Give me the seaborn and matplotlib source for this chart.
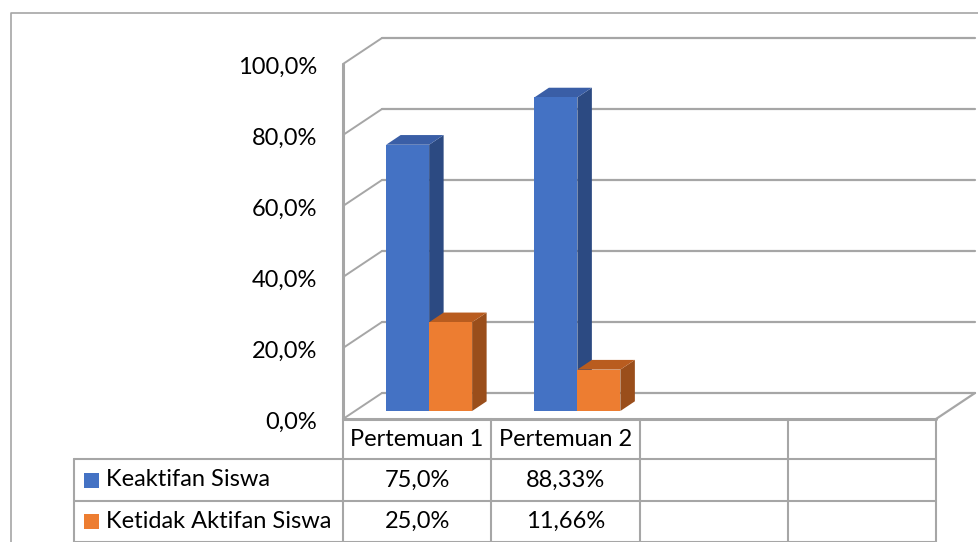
# 3D-style clustered column chart with a data table underneath

import pandas as pd
import numpy as np
import matplotlib.pyplot as plt
import seaborn as sns
from matplotlib.patches import Polygon, Rectangle
from matplotlib.lines import Line2D

sns.set_style("white")
plt.rcParams['font.family'] = ['Lato', 'DejaVu Sans']

categories = ["Pertemuan 1", "Pertemuan 2"]
series = ["Keaktifan Siswa", "Ketidak Aktifan Siswa"]
keaktifan = [75.0, 88.33]
ketidak_aktifan = [25.0, 11.66]
y_ticks = [0, 20, 40, 60, 80, 100]
n_slots = 4  # the table has two empty category columns

front_colors = ["#4472C4", "#ED7D31"]
top_colors = ["#3a5ea6", "#b95c1f"]
side_colors = ["#2c4a82", "#9a4e1b"]
grid_color = "#a6a6a6"
FS = 17

df = pd.DataFrame({
    "Pertemuan": categories * 2,
    "Seri": [series[0]] * len(categories) + [series[1]] * len(categories),
    "Nilai": keaktifan + ketidak_aktifan,
})

W, H = 979, 542
fig = plt.figure(figsize=(W / 100, H / 100), dpi=100)
# the axes is the plane of the bar fronts inside the 3D box
ax = fig.add_axes([355 / W, 1 - 411 / H, 593 / W, 355 / H])
sns.barplot(data=df, x="Pertemuan", y="Nilai", hue="Seri", order=categories,
            hue_order=series, palette=front_colors, saturation=1, width=0.58,
            gap=0, errorbar=None, legend=False, ax=ax)
ax.set_xlim(-0.5, n_slots - 0.5)
ax.set_ylim(0, 100)
ax.axis('off')

inv = ax.transData.inverted()


def plane(x, y, dx, dy):
    # data point moved by (dx, dy) screen pixels, returned in data coords
    p = ax.transData.transform((x, y))
    return inv.transform(p + np.array([dx, dy]))


FRONT = (-12, -8)
BACK = (27, 18)
DEPTH = (14.5, 9.7)
x_lo, x_hi = -0.5, n_slots - 0.5

# back wall gridlines and side wall diagonals
for v in y_ticks:
    a, b = plane(x_lo, v, *BACK), plane(x_hi, v, *BACK)
    ax.plot([a[0], b[0]], [a[1], b[1]], color=grid_color, lw=1.6,
            clip_on=False, zorder=1)
    f = plane(x_lo, v, *FRONT)
    ax.plot([f[0], a[0]], [f[1], a[1]], color=grid_color, lw=1.4,
            clip_on=False, zorder=1)

# front vertical axis, floor front edge and right floor edge
p0, p1 = plane(x_lo, 0, *FRONT), plane(x_lo, 100, *FRONT)
ax.plot([p0[0], p1[0]], [p0[1], p1[1]], color=grid_color, lw=2.2,
        clip_on=False, zorder=1)
q0, q1 = plane(x_hi, 0, *FRONT), plane(x_hi, 0, *BACK)
ax.plot([p0[0], q0[0]], [p0[1], q0[1]], color=grid_color, lw=2.2,
        clip_on=False, zorder=6)
ax.plot([q0[0], q1[0]], [q0[1], q1[1]], color=grid_color, lw=1.6,
        clip_on=False, zorder=1)

# extrude the seaborn bars into boxes
all_bars = []
for s, cont in enumerate(ax.containers):
    for bar in cont:
        all_bars.append((bar.get_x(), s, bar))
all_bars.sort(key=lambda t: t[0])
for rank, (_, s, bar) in enumerate(all_bars):
    x0, w, h = bar.get_x(), bar.get_width(), bar.get_height()
    z = 3 + rank * 0.1
    side = [plane(x0 + w, 0, 0, 0), plane(x0 + w, h, 0, 0),
            plane(x0 + w, h, *DEPTH), plane(x0 + w, 0, *DEPTH)]
    top = [plane(x0, h, 0, 0), plane(x0 + w, h, 0, 0),
           plane(x0 + w, h, *DEPTH), plane(x0, h, *DEPTH)]
    ax.add_patch(Polygon(side, closed=True, facecolor=side_colors[s],
                         edgecolor='none', clip_on=False, zorder=z - 0.05))
    ax.add_patch(Polygon(top, closed=True, facecolor=top_colors[s],
                         edgecolor='none', clip_on=False, zorder=z - 0.05))
    bar.set_linewidth(0)
    bar.set_zorder(z)
    bar.set_clip_on(False)

# y tick labels on the front axis
for v in y_ticks:
    x, y = plane(x_lo, v, FRONT[0] - 26, FRONT[1] - 3)
    ax.text(x, y, f"{v:.1f}".replace('.', ',') + '%', ha='right',
            va='center', fontsize=FS, color='black')


# data table (drawn in figure pixels, columns follow the category slots)
def fx(px):
    return px / W


def fy(py):
    return 1 - py / H


col_px = [ax.transData.transform(plane(x_lo + i, 0, *FRONT))[0]
          for i in range(n_slots + 1)]
row_px = [419, 459, 501, 542]
left_px = 74
line_kw = dict(color=grid_color, lw=1.5, transform=fig.transFigure)

for cx in col_px:
    fig.add_artist(Line2D([fx(cx), fx(cx)], [fy(row_px[0]), fy(row_px[-1] + 5)], **line_kw))
fig.add_artist(Line2D([fx(left_px), fx(left_px)], [fy(row_px[1]), fy(row_px[-1] + 5)], **line_kw))
for ry in row_px[1:]:
    fig.add_artist(Line2D([fx(left_px), fx(col_px[-1])], [fy(ry), fy(ry)], **line_kw))


def fmt(v):
    s = f"{v:.1f}" if v == int(v) else f"{v:g}"
    return s.replace('.', ',') + '%'


txt_kw = dict(fontsize=FS, color='black', transform=fig.transFigure)
for i, cat in enumerate(categories):
    cx = (col_px[i] + col_px[i + 1]) / 2
    fig.text(fx(cx), fy(440), cat, ha='center', va='center', **txt_kw)

for r, (name, vals) in enumerate(zip(series, [keaktifan, ketidak_aktifan])):
    cy = (row_px[r + 1] + row_px[r + 2]) / 2
    fig.add_artist(Rectangle((fx(84), fy(cy + 7.5)), 15 / W, 15 / H,
                             facecolor=front_colors[r], edgecolor='none',
                             transform=fig.transFigure))
    fig.text(fx(106), fy(cy), name, ha='left', va='center', **txt_kw)
    for i, v in enumerate(vals):
        cx = (col_px[i] + col_px[i + 1]) / 2
        fig.text(fx(cx), fy(cy), fmt(v), ha='center', va='center', **txt_kw)

# outer chart frame (only left and top edges are inside the crop)
fig.add_artist(Line2D([fx(11), fx(11), fx(W + 5)], [fy(H + 5), fy(13), fy(13)],
                      color=grid_color, lw=1.2, transform=fig.transFigure))

plt.savefig('out.png', dpi=100)
print("Figure save: out.png")
